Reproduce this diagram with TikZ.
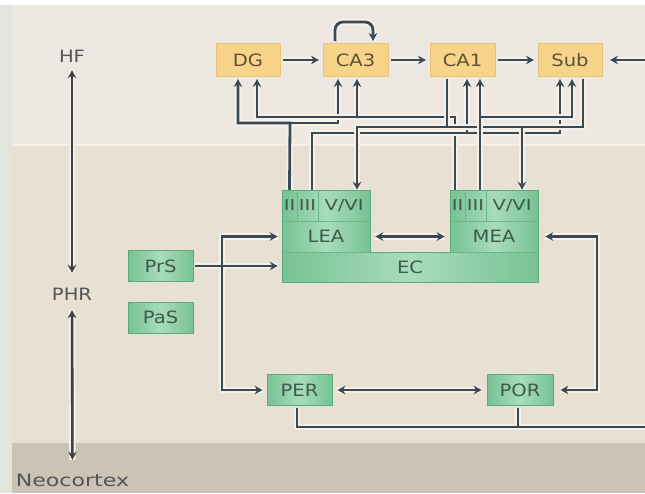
\documentclass[tikz,border=0pt]{standalone}
\usepackage{fontspec}
\usepackage{graphicx}
\setmainfont{DejaVu Sans}
\usetikzlibrary{arrows.meta,calc}
\definecolor{bgtop}{HTML}{EEE8E2}
\definecolor{bgmid}{HTML}{E7E0D3}
\definecolor{bgbot}{HTML}{CBC4B6}
\definecolor{stripcol}{HTML}{E3E4DD}
\definecolor{lcol}{HTML}{3A4A55}
\definecolor{halocol}{HTML}{F5F1E9}
\definecolor{ofill}{HTML}{F8D48B}
\definecolor{obord}{HTML}{EDC278}
\definecolor{otext}{HTML}{5E5138}
\definecolor{gdark}{HTML}{77C295}
\definecolor{glight}{HTML}{A8DCBA}
\definecolor{gbord}{HTML}{5AAA7C}
\definecolor{gline}{HTML}{6AB688}
\definecolor{gtext}{HTML}{3F5A4C}
\definecolor{ltext}{HTML}{555555}
\newcommand\boxfont{\fontsize{17}{19}\selectfont}
\newcommand\layerfont{\fontsize{15}{17}\selectfont}
\newcommand\wideT[1]{\scalebox{1.15}[1]{#1}}
\newcommand\wideL[1]{\scalebox{1.3}[1]{#1}}
% connector networks, drawn once as halo and once as wire
\newcommand\netHF[1]{%
  \draw[->,#1,shorten >=1.5pt] (DG.east) -- (CA3.west);
  \draw[->,#1,shorten >=1.5pt] (CA3.east) -- (CA1.west);
  \draw[->,#1,shorten >=1.5pt] (CA1.east) -- (Sub.west);
  \draw[->,#1,rounded corners=8pt] ($(CA3.north)+(-20.5,0)$) -- ++(0,-19) -- ($(CA3.north)+(17.5,-19)$) -- ($(CA3.north)+(17.5,0)$);}
\newcommand\netA[1]{%
  \draw[->,#1] (LEA2.north) -- (290,123) -| ($(DG.south)+(-10,0)$);
  \draw[->,#1] (290,123) -| ($(CA3.south)+(-17.5,0)$);}
\newcommand\netB[1]{%
  \draw[->,#1] ($(MEA2.north)+(-2.5,0)$) -- (455,117) -| ($(DG.south)+(9,0)$);
  \draw[->,#1] (357,117) -- ($(CA3.south)+(1.5,0)$);}
\newcommand\netC[1]{%
  \draw[->,#1] ($(MEA3.north)+(4.5,0)$) -- ($(CA1.south)+(17.5,0)$);
  \draw[->,#1] (480,117) -| ($(Sub.south)+(2,0)$);}
\newcommand\netD[1]{%
  \draw[->,#1] ($(LEA3.north)+(4.5,0)$) -- (312,133) -| ($(Sub.south)+(-10,0)$);
  \draw[->,#1] (467,133) -- ($(CA1.south)+(4.5,0)$);}
\newcommand\netE[1]{%
  \draw[->,#1] ($(Sub.south)+(13,0)$) -- (583,127) -| ($(LEA56.north)+(13,0)$);
  \draw[->,#1] (522,127) -- ($(MEA56.north)+(10,0)$);
  \draw[#1] ($(CA1.south)+(-15.5,0)$) -- (447,127);}
\newcommand\netPHR[1]{%
  \draw[<->,#1,shorten <=5pt,shorten >=5pt] (LEA.east) -- (MEA.west);
  \draw[<->,#1,shorten <=4pt,shorten >=4pt] (LEA.west) -- (222,236.5) -- (222,390) -- (PER.west);
  \draw[->,#1,shorten <=2pt,shorten >=4pt] (PrS.east) -- (PrS.east -| EC.west);
  \draw[<->,#1,shorten <=7pt,shorten >=7pt] (MEA.east) -- (597,236.5) -- (597,390) -- (POR.east);
  \draw[<->,#1,shorten <=5pt,shorten >=5pt] (PER.east) -- (POR.west);
  \draw[->,#1,shorten <=2pt,shorten >=5.5pt] ($(PER.south)+(-2.5,0)$) -- (297,427) -- (650,427) -- (650,60) -- (Sub.east);
  \draw[#1,shorten <=2pt] ($(POR.south)+(-2,0)$) -- (518,427);}
\newcommand\netAxis[1]{%
  \draw[<->,#1,shorten <=7.5pt,shorten >=14.5pt] (HF) -- (PHR);
  \draw[<->,#1,shorten <=9.5pt,shorten >=13.5pt] (PHR) -- (Neo);}
\begin{document}
\begin{tikzpicture}[x=1pt,y=-1pt,
  >={Stealth[length=8pt,width=8.5pt]},
  hfbox/.style={draw=obord, fill=ofill, line width=0.8pt, minimum height=33pt, inner sep=0pt, outer sep=2.5pt, text=otext, font=\boxfont},
  gbox/.style={draw=gbord, line width=0.8pt, left color=gdark, right color=gdark, middle color=glight, minimum width=65pt, minimum height=31pt, inner sep=0pt, text=gtext, font=\boxfont},
  cell/.style={draw=gline, line width=0.5pt, inner sep=0pt, minimum height=31pt, text=gtext, font=\layerfont},
  area/.style={draw=gline, line width=0.5pt, inner sep=0pt, text=gtext, font=\boxfont},
  lbl/.style={text=ltext, font=\boxfont, inner sep=0pt, text height=13pt, text depth=0pt},
  halo/.style={draw=halocol, line width=6.5pt, -},
  wire/.style={draw=lcol, line width=2.8pt},
  axisline/.style={draw=ltext!75!black, line width=2.6pt},
]
\useasboundingbox (0,0) rectangle (645,493);
\clip (0,0) rectangle (645,493);
% background bands
\fill[white] (0,0) rectangle (645,493);
\fill[bgtop] (0,5) rectangle (645,145);
\fill[bgmid] (0,145) rectangle (645,443);
\fill[bgbot] (0,443) rectangle (645,493);
\fill[stripcol] (0,5) rectangle (12,493);
\draw[halocol,line width=1.5pt] (12,145) -- (645,145);

% hippocampal formation
\node[hfbox,minimum width=64pt] (DG) at (248,60) {\wideT{DG}};
\node[hfbox,minimum width=65pt] (CA3) at (355.5,60) {\wideT{CA3}};
\node[hfbox,minimum width=65pt] (CA1) at (462.5,60) {\wideT{CA1}};
\node[hfbox,minimum width=64pt] (Sub) at (570,60) {\wideT{Sub}};

% entorhinal cortex block
\shade[left color=gdark,right color=gdark,middle color=glight] (282,190) rectangle (370,252);
\shade[left color=gdark,right color=gdark,middle color=glight] (450,190) rectangle (538,252);
\shade[left color=gdark,right color=gdark,middle color=glight] (282,252) rectangle (538,282);
\node[cell,minimum width=15pt] (LEA2) at (289.5,205.5) {\wideL{II}};
\node[cell,minimum width=21pt] (LEA3) at (307.5,205.5) {\wideL{III}};
\node[cell,minimum width=52pt] (LEA56) at (344,205.5) {\wideL{V/VI}};
\node[cell,minimum width=15pt] (MEA2) at (457.5,205.5) {\wideL{II}};
\node[cell,minimum width=21pt] (MEA3) at (475.5,205.5) {\wideL{III}};
\node[cell,minimum width=52pt] (MEA56) at (512,205.5) {\wideL{V/VI}};
\node[area,minimum width=88pt,minimum height=31pt] (LEA) at (326,236.5) {\wideT{LEA}};
\node[area,minimum width=88pt,minimum height=31pt] (MEA) at (494,236.5) {\wideT{MEA}};
\node[area,minimum width=256pt,minimum height=30pt] (EC) at (410,267) {\wideT{EC}};
\draw[gbord,line width=1pt] (282,190) -- (370,190) -- (370,252) -- (450,252) -- (450,190) -- (538,190) -- (538,282) -- (282,282) -- cycle;

% parahippocampal boxes
\node[gbox] (PrS) at (160.5,266) {\wideT{PrS}};
\node[gbox] (PaS) at (160.5,317.5) {\wideT{PaS}};
\node[gbox] (PER) at (299.5,390) {\wideT{PER}};
\node[gbox,minimum width=66pt] (POR) at (520,390) {\wideT{POR}};

% left axis labels
\node[lbl] (HF) at (72,56) {\wideT{HF}};
\node[lbl] (PHR) at (72,294) {\wideT{PHR}};
\node[lbl] (Neo) at (72.5,480) {\scalebox{1.3}[1]{Neocortex}};

% connectors
\netAxis{halo}\netAxis{axisline}
\netHF{halo}\netHF{wire}
\netPHR{halo}\netPHR{wire}
\netA{halo}\netA{wire}
\netB{halo}\netB{wire}
\netD{halo}\netD{wire}
\netE{halo}\netE{wire}
\netC{halo}\netC{wire}
\end{tikzpicture}
\end{document}
